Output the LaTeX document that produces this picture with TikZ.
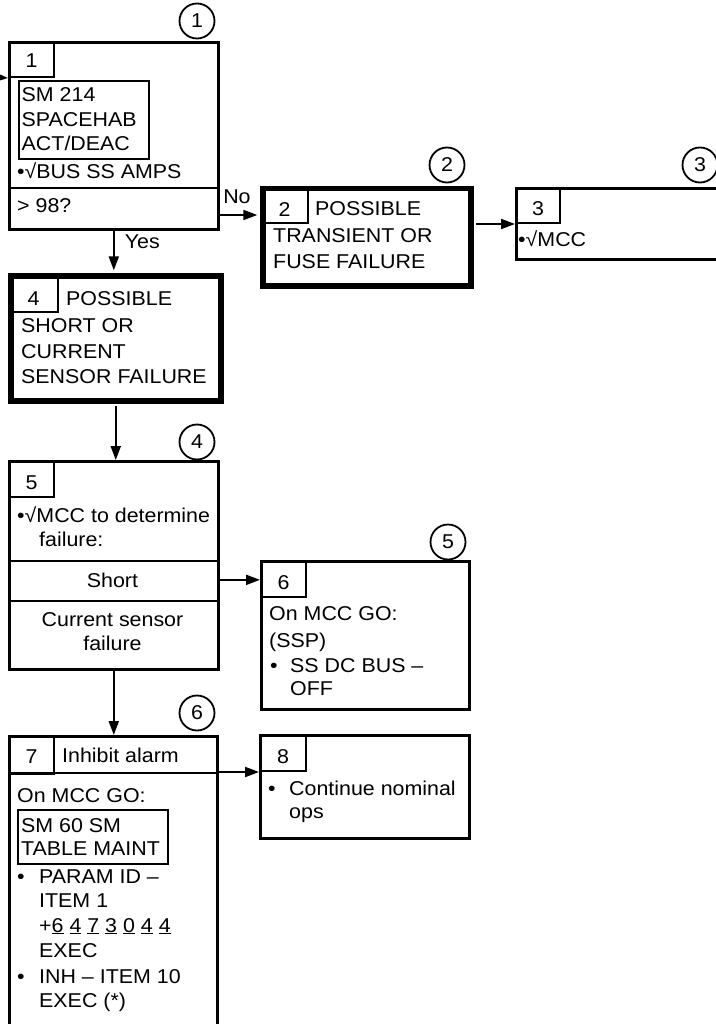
\documentclass[tikz,border=0pt]{standalone}
\usepackage{fontspec}
\setmainfont{Liberation Sans}[FakeStretch=1.07]
\usetikzlibrary{arrows.meta}
\begin{document}
\begin{tikzpicture}[
  x=1pt, y=-1pt,
  font=\fontsize{20}{25}\selectfont,
  box/.style={draw, line width=2.6pt, anchor=north west, inner sep=0pt},
  heavy/.style={draw, line width=5.5pt, anchor=north west, inner sep=0pt},
  numbox/.style={draw, line width=2pt, anchor=north west, inner sep=0pt, text height=20pt, text depth=0pt},
  inset/.style={draw, line width=2.2pt, anchor=north west, inner sep=0pt},
  txt/.style={anchor=base west, inner sep=0pt},
  ctr/.style={anchor=base, inner sep=0pt},
  tag/.style={circle, draw, line width=1.8pt, minimum size=35pt, inner sep=0pt},
  arr/.style={line width=2pt, -{Triangle[length=14pt,width=10pt]}}
]
\useasboundingbox (0,0) rectangle (715,1024);

\node[box, minimum width=209, minimum height=187] (b1) at (8,41) {};
\node[numbox, minimum width=45, minimum height=35, text height=17pt] (n1) at (8,41) {1};
\node[inset, minimum width=130, minimum height=78] (m1) at (17.5,80) {};
\node[txt] (m1a) at (21.5,101.5) {SM 214};
\node[txt] (m1b) at (21.5,126.5) {SPACEHAB};
\node[txt] (m1c) at (21.5,150.5) {ACT/DEAC};
\node[txt] (b1a) at (17,179) {•√BUS SS AMPS};
\draw[line width=2.6pt] ([yshift=-147pt]b1.north west) -- ([yshift=-147pt]b1.north east);
\node[txt] (b1q) at (17,213) {> 98?};
\node[tag] (c1) at (197,21) {1};

\node[heavy, minimum width=208, minimum height=97] (b2) at (260,186) {};
\node[numbox, minimum width=47, minimum height=36, text height=24pt] (n2) at (260,186) {2};
\node[txt] (b2a) at (315,216) {POSSIBLE};
\node[txt] (b2b) at (273,243) {TRANSIENT OR};
\node[txt] (b2c) at (273,268) {FUSE FAILURE};
\node[tag] (c2) at (447,165) {2};

\node[box, minimum width=210, minimum height=71] (b3) at (515,187) {};
\node[numbox, minimum width=44, minimum height=35] (n3) at (515,187) {3};
\node[txt] (b3a) at (518,246) {•√MCC};
\node[tag] (c3) at (700,165) {3};

\node[heavy, minimum width=210, minimum height=125] (b4) at (8,273) {};
\node[numbox, minimum width=49, minimum height=38, text height=24pt] (n4) at (8,273) {4};
\node[txt] (b4a) at (66,305) {POSSIBLE};
\node[txt] (b4b) at (21,332) {SHORT OR};
\node[txt] (b4c) at (21,358) {CURRENT};
\node[txt] (b4d) at (21,383) {SENSOR FAILURE};

\node[box, minimum width=209, minimum height=208] (b5) at (8,460) {};
\node[numbox, minimum width=45, minimum height=36] (n5) at (8,460) {5};
\node[txt] (b5a) at (17,522) {•√MCC to determine};
\node[txt] (b5b) at (39,546) {failure:};
\draw[line width=2.6pt] ([yshift=-101pt]b5.north west) -- ([yshift=-101pt]b5.north east);
\draw[line width=2.6pt] ([yshift=-141pt]b5.north west) -- ([yshift=-141pt]b5.north east);
\node[ctr] (short) at (112.5,587) {Short};
\node[ctr] (b5c) at (112.5,626) {Current sensor};
\node[ctr] (b5d) at (112.5,650) {failure};
\node[tag] (c4) at (197,442) {4};

\node[box, minimum width=208, minimum height=148] (b6) at (260,560) {};
\node[numbox, minimum width=45, minimum height=36] (n6) at (260,560) {6};
\node[txt] (b6a) at (269,620) {On MCC GO:};
\node[txt] (b6b) at (269,647) {(SSP)};
\node[txt] (b6c) at (270,672) {•};
\node[txt] (b6d) at (290,672) {SS DC BUS –};
\node[txt] (b6e) at (290,695) {OFF};
\node[tag] (c5) at (448,542) {5};

\node[box, minimum width=208, minimum height=300] (b7) at (8,735) {};
\node[numbox, minimum width=45, minimum height=38, text height=17pt] (n7) at (8,735) {7};
\draw[line width=2.6pt] ([yshift=-38pt]b7.north west) -- ([yshift=-38pt]b7.north east);
\node[txt] (b7a) at (62,762) {Inhibit alarm};
\node[txt] (b7b) at (17,802) {On MCC GO:};
\node[inset, minimum width=150, minimum height=54] (m7) at (17,809) {};
\node[txt] (m7a) at (21,832) {SM 60 SM};
\node[txt] (m7b) at (21,855) {TABLE MAINT};
\node[txt] (b7c) at (17,883) {•};
\node[txt] (b7d) at (39,883) {PARAM ID –};
\node[txt] (b7e) at (39,907) {ITEM 1};
\node[txt] (b7f) at (39,932) {+\underline{6} \underline{4} \underline{7} \underline{3} \underline{0} \underline{4} \underline{4}};
\node[txt] (b7g) at (39,957) {EXEC};
\node[txt] (b7h) at (17,983) {•};
\node[txt] (b7i) at (39,983) {INH – ITEM 10};
\node[txt] (b7j) at (39,1007) {EXEC (*)};
\node[tag] (c6) at (197,713) {6};

\node[box, minimum width=209, minimum height=103] (b8) at (259,734) {};
\node[numbox, minimum width=46, minimum height=36] (n8) at (259,734) {8};
\node[txt] (b8a) at (268,795) {•};
\node[txt] (b8b) at (289,795) {Continue nominal};
\node[txt] (b8c) at (289,818) {ops};

\coordinate (in) at (-25,76);
\coordinate (no) at ([yshift=-29pt]b2.north west);
\draw[arr] (in) -- (n1.south west);
\draw[arr, shorten >=2.7pt] (b1.east |- no) -- node[anchor=base, pos=0.43, yshift=11pt, inner sep=0pt] (nolab) {No} (no);
\draw[arr, shorten <=2.7pt] (b2.east |- n3.south west) -- (n3.south west);
\draw[arr, shorten >=2.7pt] (b1.south) -- node[right, pos=0.27, xshift=10pt, inner sep=0pt] (yeslab) {Yes} (b1.south |- b4.north);
\draw[arr, shorten <=2.7pt] (b4.south) -- (b4.south |- b5.north);
\draw[arr] (b5.east |- short) -- (b6.west |- short);
\draw[arr] (b5.south) -- (b5.south |- b7.north);
\draw[arr] (b7.east |- n8.south west) -- (n8.south west);
\end{tikzpicture}
\end{document}
